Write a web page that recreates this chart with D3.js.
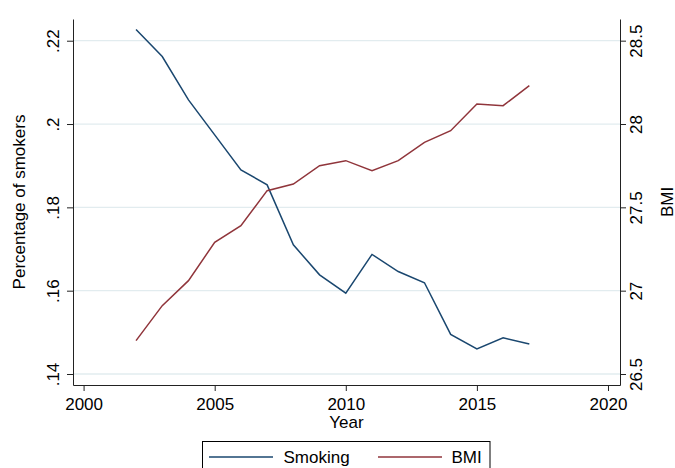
<!DOCTYPE html>
<html>
<head>
<meta charset="utf-8">
<script src="https://cdn.jsdelivr.net/npm/d3@7"></script>
<style>
  html, body { margin: 0; padding: 0; background: #fff; }
  svg { display: block; }
  text { font-family: "Liberation Sans", Arial, Helvetica, sans-serif; fill: #000; }
</style>
</head>
<body>
<svg id="chart" width="675" height="468"></svg>
<script>
// ---- data ----
const years = [2002, 2003, 2004, 2005, 2006, 2007, 2008, 2009, 2010, 2011, 2012, 2013, 2014, 2015, 2016, 2017];
const smoking = [0.2227, 0.2162, 0.2058, 0.1974, 0.1890, 0.1854, 0.1710, 0.1638, 0.1594, 0.1687, 0.1646, 0.1619, 0.1495, 0.1460, 0.1487, 0.1472];
const bmi = [26.70, 26.91, 27.06, 27.29, 27.39, 27.60, 27.64, 27.75, 27.78, 27.72, 27.78, 27.89, 27.96, 28.12, 28.11, 28.23];
const xTicks = [2000, 2005, 2010, 2015, 2020];
const leftTicks = [0.14, 0.16, 0.18, 0.20, 0.22];
const leftTickLabels = [".14", ".16", ".18", ".2", ".22"];
const rightTicks = [26.5, 27, 27.5, 28, 28.5];
const rightTickLabels = ["26.5", "27", "27.5", "28", "28.5"];
const seriesNames = ["Smoking", "BMI"];
const seriesColors = ["#1a476f", "#90353b"];

// ---- layout ----
const L = 73, R = 620, T = 19, B = 385;
const svg = d3.select("#chart");

const x = d3.scaleLinear().domain([1999.596, 2020.458]).range([L, R]);
const yL = d3.scaleLinear().domain([0.13736, 0.22521]).range([B, T]);
const yR = d3.scaleLinear().domain([26.434, 28.630]).range([B, T]);

// gridlines
svg.append("g").selectAll("line").data(leftTicks).join("line")
  .attr("x1", L).attr("x2", R)
  .attr("y1", d => yL(d)).attr("y2", d => yL(d))
  .attr("stroke", "#e2ecef").attr("stroke-width", 1.3);

// lines
const lineS = d3.line().x((d, i) => x(years[i])).y(d => yL(d));
const lineB = d3.line().x((d, i) => x(years[i])).y(d => yR(d));
svg.append("path").datum(smoking).attr("d", lineS)
  .attr("fill", "none").attr("stroke", seriesColors[0]).attr("stroke-width", 1.5);
svg.append("path").datum(bmi).attr("d", lineB)
  .attr("fill", "none").attr("stroke", seriesColors[1]).attr("stroke-width", 1.5);

const fontSize = "17px";

// x axis
const gx = svg.append("g").attr("transform", `translate(0,${B})`)
  .call(d3.axisBottom(x).tickValues(xTicks).tickFormat(d3.format("d")).tickSize(6).tickSizeOuter(0));
gx.select(".domain").attr("stroke", "#222");
gx.selectAll(".tick line").attr("stroke", "#222");
gx.selectAll(".tick text").attr("y", 25).attr("dy", null)
  .style("font-size", fontSize).style("font-family", null).attr("fill", "#000");

// left axis
const gl = svg.append("g").attr("transform", `translate(${L},0)`)
  .call(d3.axisLeft(yL).tickValues(leftTicks).tickFormat((d, i) => leftTickLabels[i]).tickSize(6).tickSizeOuter(0));
gl.select(".domain").attr("stroke", "#222");
gl.selectAll(".tick line").attr("stroke", "#222");
gl.selectAll(".tick text").attr("x", null).attr("dy", null)
  .attr("transform", "translate(-14,0) rotate(-90)")
  .attr("text-anchor", "middle")
  .style("font-size", fontSize).style("font-family", null).attr("fill", "#000");

// right axis
const gr = svg.append("g").attr("transform", `translate(${R},0)`)
  .call(d3.axisRight(yR).tickValues(rightTicks).tickFormat((d, i) => rightTickLabels[i]).tickSize(6).tickSizeOuter(0));
gr.select(".domain").attr("stroke", "#222");
gr.selectAll(".tick line").attr("stroke", "#222");
gr.selectAll(".tick text").attr("x", null).attr("dy", null)
  .attr("transform", "translate(22,0) rotate(-90)")
  .attr("text-anchor", "middle")
  .style("font-size", fontSize).style("font-family", null).attr("fill", "#000");

// titles
const midY = (T + B) / 2;
svg.append("text").attr("transform", `translate(25,${midY}) rotate(-90)`)
  .attr("text-anchor", "middle").style("font-size", fontSize).text("Percentage of smokers");
svg.append("text").attr("transform", `translate(672.5,${midY}) rotate(-90)`)
  .attr("text-anchor", "middle").style("font-size", fontSize).text("BMI");
svg.append("text").attr("x", (L + R) / 2).attr("y", 428)
  .attr("text-anchor", "middle").style("font-size", fontSize).text("Year");

// legend
const lg = svg.append("g");
lg.append("rect").attr("x", 202.5).attr("y", 441.5).attr("width", 287.5).attr("height", 40)
  .attr("fill", "#fff").attr("stroke", "#000").attr("stroke-width", 1);
const legendItems = [
  { name: seriesNames[0], color: seriesColors[0], x1: 209, x2: 273, tx: 283.5 },
  { name: seriesNames[1], color: seriesColors[1], x1: 378, x2: 442, tx: 451.5 }
];
legendItems.forEach(it => {
  lg.append("line").attr("x1", it.x1).attr("x2", it.x2).attr("y1", 457).attr("y2", 457)
    .attr("stroke", it.color).attr("stroke-width", 1.5);
  lg.append("text").attr("x", it.tx).attr("y", 463).style("font-size", fontSize).text(it.name);
});
</script>
</body>
</html>
